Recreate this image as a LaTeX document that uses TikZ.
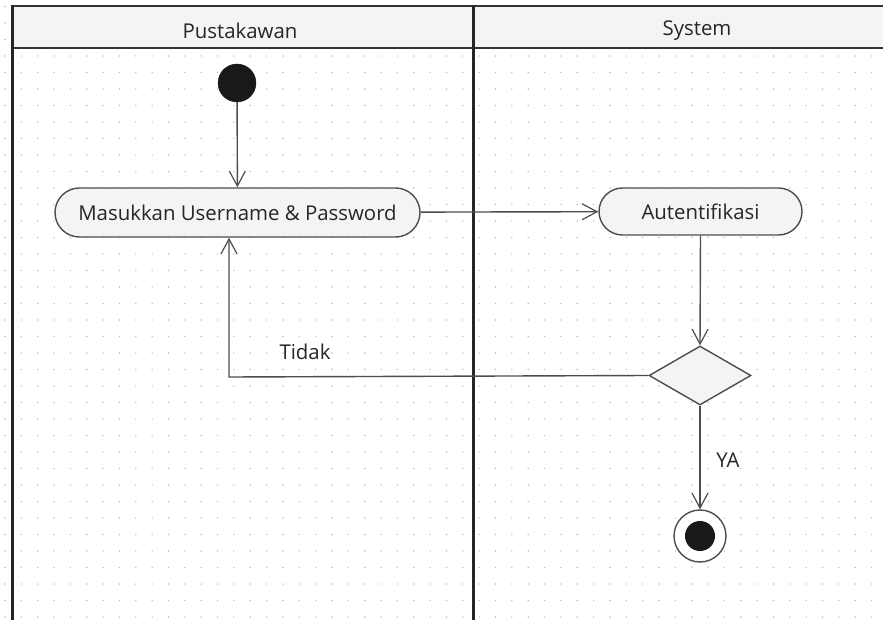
\documentclass[tikz,border=0pt]{standalone}
\usepackage{fontspec}
\setmainfont{Open Sans}
\usetikzlibrary{shapes.geometric,shapes.misc,arrows.meta}
\definecolor{ink}{HTML}{262626}
\definecolor{ln}{HTML}{4D4D4D}
\definecolor{boxfill}{HTML}{F4F4F4}
\begin{document}
\begin{tikzpicture}[x=1pt,y=-1pt,
  font=\fontsize{20.4}{24}\selectfont, text=ink,
  action/.style={draw=ln, line width=1.4pt, fill=boxfill, rounded rectangle, inner sep=0pt},
  flow/.style={draw=ln, line width=1.4pt, -{Straight Barb[length=15pt,width=16pt,line width=1.2pt]}},
  lane/.style={draw=black!85, line width=3pt},
  lbl/.style={text=ink}]
\useasboundingbox (0,0) rectangle (883,620);
\fill[white] (0,0) rectangle (883,620);
% dot grid
\foreach \i in {0,...,54} {
  \foreach \j in {0,...,37} {
    \fill[black!25] ({5+16.35*\i},{6.5+16.5*\j}) circle (0.8);
  }
}
% header
\fill[boxfill] (12,6) rectangle (883,48);
\draw[draw=black!80, line width=2.2pt] (12,6) -- (883,6);
\draw[draw=black!80, line width=2.2pt] (12,48) -- (883,48);
\draw[lane] (12,5) -- (12,620);
\draw[lane] (473,5) -- (473,620);
\node[lbl] (h1) at (240,30.5) {Pustakawan};
\node[lbl] (h2) at (697,30.5) {System};
% nodes
\node[circle, fill=black!90, draw=black!90, minimum size=38pt, inner sep=0pt] (start) at (237,83) {};
\node[action, minimum width=365pt, minimum height=49pt] (act1) at (237.5,212.5) {Masukkan Username \& Password};
\node[action, minimum width=203pt, minimum height=47pt] (act2) at (700.5,211.5) {Autentifikasi};
\node[diamond, draw=ln, line width=1.4pt, fill=boxfill, minimum width=102pt, minimum height=59pt, inner sep=0pt] (dec) at (700,375.5) {};
\node[circle, draw=ln, line width=1.4pt, fill=white, minimum size=52pt, inner sep=0pt] (end) at (700,536) {};
\node[circle, fill=black!90, minimum size=30pt, inner sep=0pt] (endin) at (end.center) {};
\coordinate (tk) at (229,377);
% connectors
\draw[flow] (start) -- (act1);
\draw[flow] (act1) -- (act2);
\draw[flow] (act2.south) -- (dec.north);
\draw[flow] (dec.west) -- (tk) -- (tk |- act1.south);
\draw[flow] (dec.south) -- (end.north);
\node[lbl] (tidak) at (305,352) {Tidak};
\node[lbl] (ya) at (728,460) {YA};
\end{tikzpicture}
\end{document}
